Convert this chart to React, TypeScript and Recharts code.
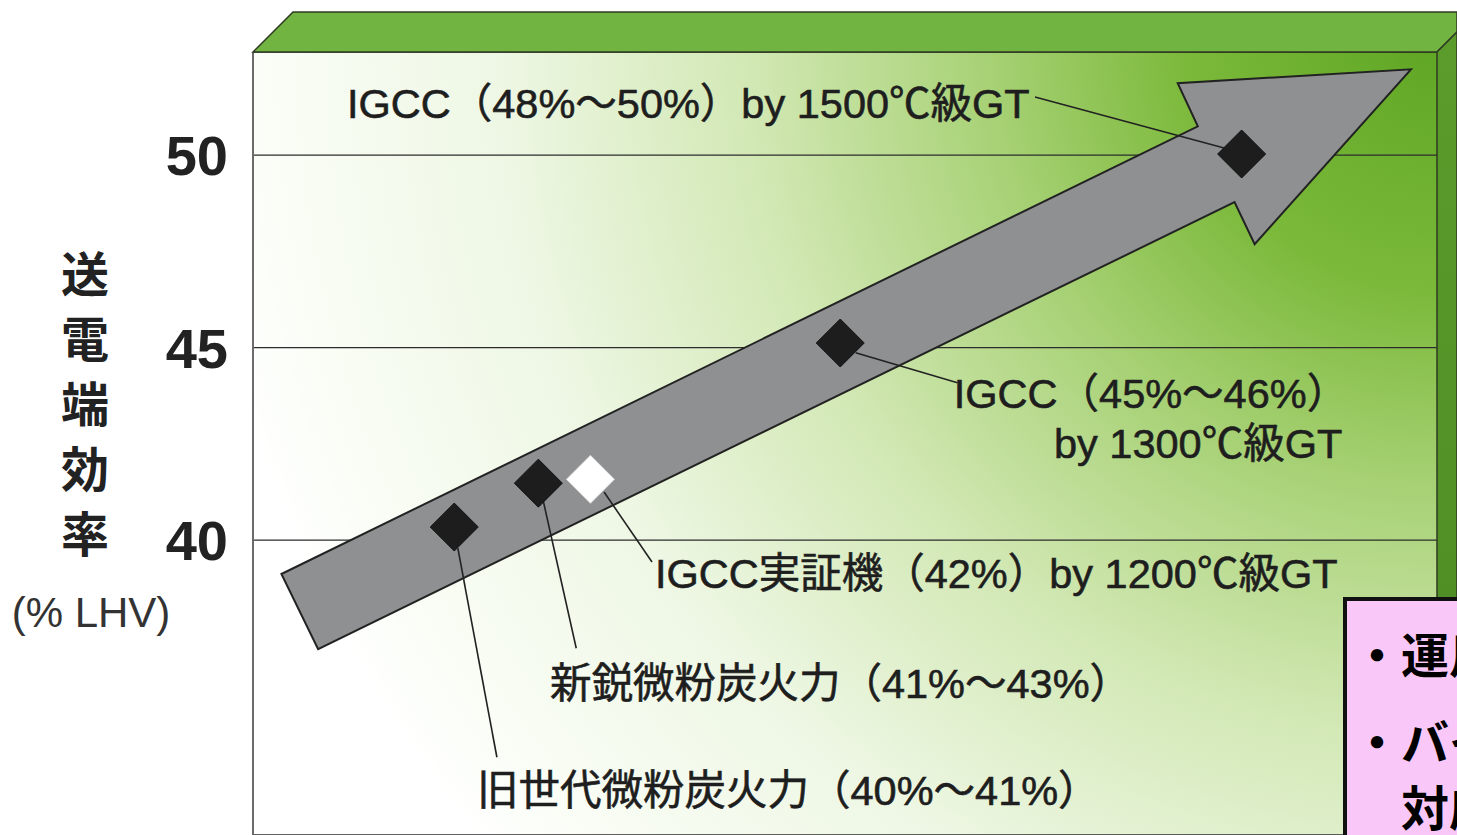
import React from "react";
import { ScatterChart, Scatter, XAxis, YAxis, CartesianGrid } from "recharts";

const W = 1457;
const H = 835;

// y axis: sending-end efficiency (% LHV)
const yTicks = [40, 45, 50];
const yTitle = ["送", "電", "端", "効", "率"];
const yUnit = "(% LHV)";

// big arrow outline, x runs 0..100 across the frame
const arrowX = [2.4, 79.8, 78.1, 97.8, 84.6, 82.9, 5.5];
const arrowY = [39.12, 50.75, 51.87, 52.23, 47.69, 48.78, 37.17];

// plants
const plantX = [17.0, 24.1, 28.5, 49.6, 83.5];
const plantY = [40.34, 41.48, 41.58, 45.12, 50.03];
const plantDemo = [false, false, true, false, false];

// leader lines from diamond to label
const leaderX1 = [82.1, 50.9, 29.65, 24.5, 17.3];
const leaderY1 = [50.18, 44.87, 41.25, 41.04, 39.79];
const leaderX2 = [66.05, 59.5, 33.7, 27.3, 20.6];
const leaderY2 = [51.51, 44.09, 39.43, 37.19, 34.36];

// labels
const noteText = [
  "IGCC（48%～50%）by 1500℃級GT",
  "IGCC（45%～46%）",
  "by 1300℃級GT",
  "IGCC実証機（42%）by 1200℃級GT",
  "新鋭微粉炭火力（41%～43%）",
  "旧世代微粉炭火力（40%～41%）",
];
const noteX = [7.94, 92.5, 92.0, 33.95, 25.08, 18.92];
const noteY = [51.35, 43.83, 42.51, 39.14, 36.29, 33.51];
const noteAnchor = ["start", "end", "end", "start", "start", "start"];

const boxLines = ["・運用性の向上", "・バイオマス混焼", "　対応"];

const arrowData = arrowX.map((x, i) => ({ x, y: arrowY[i] }));
const plantData = plantX.map((x, i) => ({ x, y: plantY[i], demo: plantDemo[i] }));
const leaders = leaderX1.map((x, i) => [
  { x, y: leaderY1[i] },
  { x: leaderX2[i], y: leaderY2[i] },
]);
const noteData = noteText.map((text, i) => ({ x: noteX[i], y: noteY[i], text, anchor: noteAnchor[i] }));

const FONT_JP = '"Noto Sans CJK JP", "Noto Sans", sans-serif';
const FONT_LABEL = '"Liberation Sans", "Noto Sans CJK JP", sans-serif';

const Nothing = () => <g />;

function Diamond(p: any) {
  const { cx, cy, payload } = p;
  const r = 24;
  const demo = payload?.demo;
  return (
    <polygon
      points={`${cx},${cy - r} ${cx + r},${cy} ${cx},${cy + r} ${cx - r},${cy}`}
      fill={demo ? "#ffffff" : "#1d1d1d"}
      stroke={demo ? "#d8d8d8" : "#111"}
      strokeWidth={1}
    />
  );
}

function Note(p: any) {
  const { cx, cy, payload } = p;
  return (
    <text
      x={cx}
      y={cy}
      dy="0.36em"
      textAnchor={payload.anchor}
      fontFamily={FONT_LABEL}
      fontSize={41.5}
      fill="#1e1e1e"
      stroke="#1e1e1e"
      strokeWidth={0.6}
    >
      {payload.text}
    </text>
  );
}

function ArrowBody(p: any) {
  const pts = (p.points || []).map((q: any) => `${q.x},${q.y}`).join(" ");
  return <polygon points={pts} fill="#8f9091" stroke="#222" strokeWidth={2} strokeLinejoin="miter" />;
}

function YTitle(p: any) {
  const vb = p.viewBox || { x: 0, y: 52 };
  const cx = vb.x + 85;
  return (
    <g>
      {yTitle.map((c, i) => (
        <text
          key={c}
          x={cx}
          y={vb.y + 223 + i * 65}
          dy="0.36em"
          textAnchor="middle"
          fontFamily={FONT_JP}
          fontWeight={700}
          fontSize={48}
          fill="#222"
        >
          {c}
        </text>
      ))}
      <text
        x={vb.x + 91}
        y={vb.y + 560}
        dy="0.36em"
        textAnchor="middle"
        fontFamily='"Liberation Sans", Arial, sans-serif'
        fontSize={42}
        fill="#333"
      >
        {yUnit}
      </text>
    </g>
  );
}

export default function App() {
  return (
    <div
      style={{
        position: "absolute",
        left: 0,
        top: 0,
        width: W,
        height: H,
        overflow: "hidden",
        background: "#fff",
      }}
    >
      <ScatterChart width={W} height={H} margin={{ top: 52, right: 20, bottom: 0, left: 0 }}>
        <defs>
          <radialGradient id="plotBg" gradientUnits="userSpaceOnUse" cx={1437} cy={40} r={1250}>
            <stop offset="0%" stopColor="#5fa624" />
            <stop offset="20%" stopColor="#7bb93a" />
            <stop offset="35%" stopColor="#a5d072" />
            <stop offset="55%" stopColor="#d2e8b4" />
            <stop offset="75%" stopColor="#eef7e4" />
            <stop offset="95%" stopColor="#fbfef8" />
            <stop offset="100%" stopColor="#ffffff" />
          </radialGradient>
        </defs>
        <CartesianGrid
          vertical={false}
          stroke="#2c2c2c"
          strokeWidth={1.4}
          fill="url(#plotBg)"
          fillOpacity={1}
        />
        <XAxis type="number" dataKey="x" domain={[0, 100]} allowDataOverflow hide />
        <YAxis
          type="number"
          dataKey="y"
          domain={[32.34, 52.68]}
          allowDataOverflow
          ticks={yTicks}
          width={253}
          tickSize={0}
          tickMargin={25}
          axisLine={{ stroke: "#6b6b6b", strokeWidth: 2 }}
          tick={{
            fontSize: 56,
            fontWeight: 700,
            fill: "#222",
            fontFamily: '"Liberation Sans", Arial, sans-serif',
          }}
          label={{ content: (props: any) => <YTitle {...props} /> }}
        />
        <Scatter
          data={arrowData}
          line={(props: any) => <ArrowBody {...props} />}
          lineType="joint"
          shape={Nothing}
          isAnimationActive={false}
        />
        {leaders.map((seg, i) => (
          <Scatter
            key={i}
            data={seg}
            line={{ stroke: "#222", strokeWidth: 1.6 }}
            lineType="joint"
            shape={Nothing}
            isAnimationActive={false}
          />
        ))}
        <Scatter data={plantData} shape={Diamond} isAnimationActive={false} />
        <Scatter data={noteData} shape={Note} isAnimationActive={false} />
      </ScatterChart>

      {/* 3D frame: top band and right wall */}
      <svg
        width={W}
        height={H}
        style={{ position: "absolute", left: 0, top: 0, pointerEvents: "none" }}
      >
        <defs>
          <linearGradient id="wall" x1="0" y1="0" x2="0" y2="1">
            <stop offset="0%" stopColor="#5c9c2c" />
            <stop offset="100%" stopColor="#4a8a22" />
          </linearGradient>
        </defs>
        <polygon
          points="253,52 293,12 1457,12 1457,32 1437,52"
          fill="#72b441"
          stroke="#2f3a22"
          strokeWidth={1.5}
        />
        <polygon points="1437,52 1457,32 1457,835 1437,835" fill="url(#wall)" stroke="#2f3a22" strokeWidth={1.5} />
      </svg>

      <div
        style={{
          position: "absolute",
          left: 1343,
          top: 597,
          width: 320,
          height: 300,
          boxSizing: "border-box",
          border: "4px solid #111",
          background: "#f9c8f9",
          fontFamily: FONT_JP,
          fontWeight: 700,
          fontSize: 48,
          color: "#000",
          whiteSpace: "nowrap",
        }}
      >
        <div style={{ position: "absolute", left: 6, top: 27, lineHeight: "48px" }}>{boxLines[0]}</div>
        <div style={{ position: "absolute", left: 6, top: 114, lineHeight: "48px" }}>{boxLines[1]}</div>
        <div style={{ position: "absolute", left: 6, top: 180, lineHeight: "48px" }}>{boxLines[2]}</div>
      </div>
    </div>
  );
}
